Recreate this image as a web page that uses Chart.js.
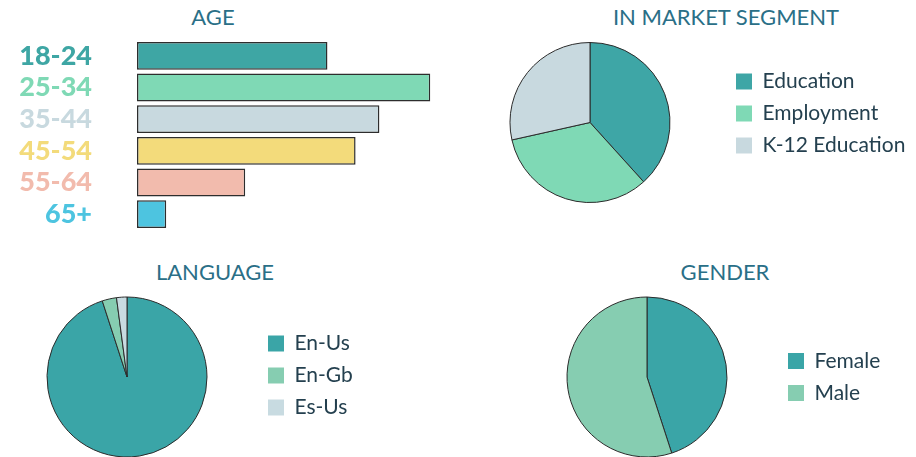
<!DOCTYPE html>
<html>
<head>
<meta charset="utf-8">
<script src="https://cdn.jsdelivr.net/npm/chart.js@4.4.1/dist/chart.umd.min.js"></script>
<style>
  html, body { margin: 0; padding: 0; background: #fff; overflow: hidden; }
  body { width: 916px; height: 457px; position: relative; font-family: Lato, sans-serif; }
  .box { position: absolute; }
  .ttl { position: absolute; transform: translateX(-50%); font: 22px/22px Lato, sans-serif; color: #2a6f87; white-space: nowrap; }
</style>
</head>
<body>
<div class="ttl" style="left:213px;top:6px">AGE</div>
<div class="ttl" style="left:726px;top:6px">IN MARKET SEGMENT</div>
<div class="ttl" style="left:215px;top:261px">LANGUAGE</div>
<div class="ttl" style="left:725px;top:261px">GENDER</div>

<div class="box" style="left:0;top:0;width:440px;height:248px"><canvas id="age"></canvas></div>
<div class="box" style="left:455px;top:40px;width:470px;height:166px"><canvas id="segment"></canvas></div>
<div class="box" style="left:-3px;top:295px;width:380px;height:162px"><canvas id="language"></canvas></div>
<div class="box" style="left:517px;top:296px;width:410px;height:162px"><canvas id="gender"></canvas></div>

<script>
// age groups (share of audience, %)
const ageLabels = ['18-24', '25-34', '35-44', '45-54', '55-64', '65+']
const ageValues = [17.6, 27.1, 22.4, 20.2, 10.0, 2.7]
const ageColors = ['#3ea6a4', '#7fd9b5', '#c8d9df', '#f3db7b', '#f2bbad', '#4dc4e0']

const segmentLabels = ['Education', 'Employment', 'K-12 Education']
const segmentValues = [38.3, 33.2, 28.5]
const segmentColors = ['#3ea6a6', '#7fd9b5', '#c8d9df']

const languageLabels = ['En-Us', 'En-Gb', 'Es-Us']
const languageValues = [95.0, 2.9, 2.1]
const languageColors = ['#3aa5a7', '#86cdb1', '#c8dbe1']

const genderLabels = ['Female', 'Male']
const genderValues = [45, 55]
const genderColors = ['#3aa5a7', '#86cdb1']

Chart.defaults.font.family = 'Lato, sans-serif'
Chart.defaults.animation = false

new Chart(document.getElementById('age'), {
  type: 'bar',
  data: {
    labels: ageLabels,
    datasets: [{
      data: ageValues,
      backgroundColor: ageColors,
      borderColor: '#2d2d2d',
      borderWidth: 1.5,
      borderSkipped: false,
      categoryPercentage: 1,
      barPercentage: 0.88
    }]
  },
  options: {
    indexAxis: 'y',
    responsive: true,
    maintainAspectRatio: false,
    layout: { padding: { top: 40, bottom: 18, left: 0, right: 0 } },
    plugins: { legend: { display: false }, tooltip: { enabled: false } },
    scales: {
      x: { display: false, min: 0, max: 28 },
      y: {
        // invisible tick marks make the gap between labels and bars
        grid: { display: true, drawOnChartArea: false, drawTicks: true, tickLength: 45, color: 'rgba(0,0,0,0)' },
        border: { display: false },
        afterFit: (scale) => { scale.width = 137 },
        ticks: {
          padding: 0,
          autoSkip: false,
          color: (c) => ageColors[c.index],
          font: { size: 27, weight: 900 }
        }
      }
    }
  }
})

// legend boxes without the slice outline
const plainLabels = (chart) => {
  const items = Chart.overrides.pie.plugins.legend.labels.generateLabels(chart)
  items.forEach(it => { it.lineWidth = 0; it.strokeStyle = 'rgba(0,0,0,0)' })
  return items
}

// fixed legend width so the pie and legend sit where they should
const legendWidth = (w) => ({
  id: 'legendWidth',
  beforeInit(chart) {
    const fit = chart.legend.fit
    chart.legend.fit = function () {
      fit.bind(chart.legend)()
      this.width = w
    }
  }
})

const makePie = (id, labels, values, colors, lw, align, pad) => {
  return new Chart(document.getElementById(id), {
    type: 'pie',
    data: {
      labels,
      datasets: [{
        data: values,
        backgroundColor: colors,
        borderColor: '#2b2b2b',
        borderWidth: 1,
        radius: 80,
        clip: false
      }]
    },
    options: {
      responsive: true,
      maintainAspectRatio: false,
      layout: { padding: pad },
      plugins: {
        tooltip: { enabled: false },
        legend: {
          position: 'right',
          align,
          labels: {
            boxWidth: 16,
            boxHeight: 16,
            padding: 11,
            color: '#24404f',
            font: { size: 21 },
            generateLabels: plainLabels
          }
        }
      }
    },
    plugins: [legendWidth(lw)]
  })
}

makePie('segment', segmentLabels, segmentValues, segmentColors, 200, 'start', { top: 20, bottom: 21 })
makePie('language', languageLabels, languageValues, languageColors, 120, 'start', { top: 27, bottom: 25 })
makePie('gender', genderLabels, genderValues, genderColors, 150, 'center', { top: 0, bottom: 0 })
</script>
</body>
</html>
